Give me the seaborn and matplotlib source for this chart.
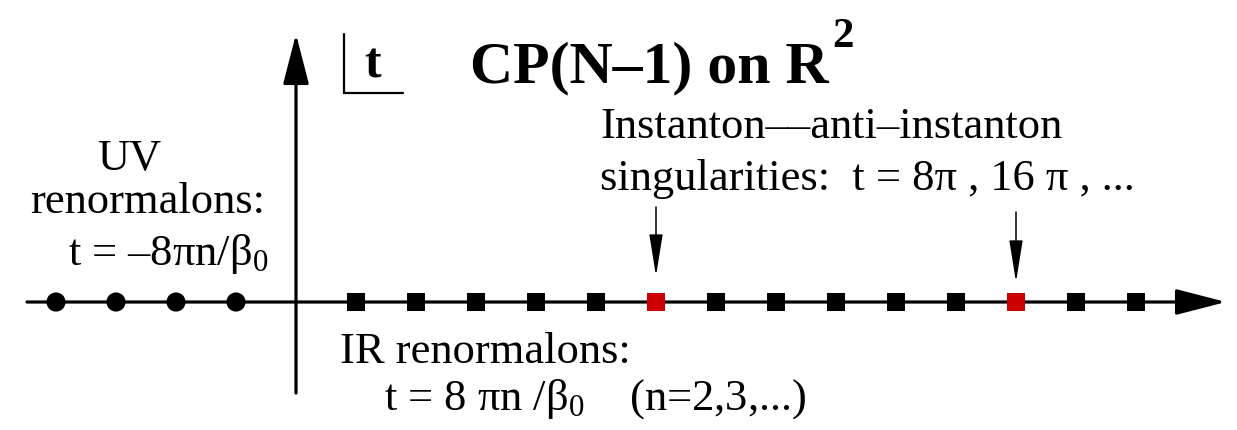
import matplotlib
matplotlib.use("Agg")
import matplotlib.pyplot as plt
import seaborn as sns
import pandas as pd

# ---- data: singularity positions on the Borel t axis (units of 8*pi/beta0) ----
uv_t = [-4, -3, -2, -1]                            # UV renormalons (circles)
ir_t = [1, 2, 3, 4, 5, 7, 8, 9, 10, 11, 13, 14]    # IR renormalons (black squares)
inst_t = [6, 12]                                   # instanton--anti-instanton (red squares)

sns.set_theme(style="white")
plt.rcParams["font.family"] = ["Liberation Serif", "DejaVu Serif"]
plt.rcParams["text.color"] = "black"
plt.rcParams["mathtext.fontset"] = "custom"
plt.rcParams["mathtext.rm"] = "Liberation Serif"
plt.rcParams["mathtext.it"] = "Liberation Serif:italic"
plt.rcParams["mathtext.bf"] = "Liberation Serif:bold"

W, H = 1237, 431
ORIGIN_PX, UNIT_PX = 296, 60.0
AXIS_Y = 303


def px(x):
    """pixel x -> t units"""
    return (x - ORIGIN_PX) / UNIT_PX


fig = plt.figure(figsize=(W / 100, H / 100), dpi=100)
ax = fig.add_axes([0, 0, 1, 1])

# markers
df_uv = pd.DataFrame({"t": uv_t, "y": [AXIS_Y] * len(uv_t)})
df_ir = pd.DataFrame({"t": ir_t, "y": [AXIS_Y] * len(ir_t)})
df_in = pd.DataFrame({"t": inst_t, "y": [AXIS_Y] * len(inst_t)})
sns.scatterplot(data=df_uv, x="t", y="y", marker="o", s=190, color="black",
                edgecolor="none", ax=ax, zorder=3, legend=False)
sns.scatterplot(data=df_ir, x="t", y="y", marker="s", s=160, color="black",
                edgecolor="none", ax=ax, zorder=3, legend=False)
sns.scatterplot(data=df_in, x="t", y="y", marker="s", s=160, color="#cc0000",
                edgecolor="none", ax=ax, zorder=3, legend=False)
ax.set_xlim(px(0), px(W))
ax.set_ylim(H, 0)
ax.axis("off")

# axes arrows
ax.annotate("", xy=(px(1226), AXIS_Y), xytext=(px(27), AXIS_Y),
            arrowprops=dict(arrowstyle="-|>,head_length=3.1,head_width=0.8",
                            mutation_scale=10, lw=2.3, color="black",
                            shrinkA=0, shrinkB=0), zorder=1)
ax.annotate("", xy=(0, 35), xytext=(0, 394),
            arrowprops=dict(arrowstyle="-|>,head_length=3.1,head_width=0.8",
                            mutation_scale=10, lw=2.3, color="black",
                            shrinkA=0, shrinkB=0), zorder=1)

# arrows pointing at the instanton singularities
for t, (y0, y1) in zip(inst_t, [(208, 277), (213, 283)]):
    ax.annotate("", xy=(t, y1), xytext=(t, y0),
                arrowprops=dict(arrowstyle="-|>,head_length=2.6,head_width=0.42",
                                mutation_scale=10, lw=1.1, color="black",
                                shrinkA=0, shrinkB=0))

# corner "t" label
ax.plot([px(344), px(344), px(403)], [35, 94, 94], color="black", lw=1.6,
        solid_joinstyle="miter")
ax.text(px(364), 77, "t", fontsize=36, fontweight="bold", va="baseline", ha="left")

# title
ax.text(px(470), 82, "CP(N\u20131) on R", fontsize=43, fontweight="bold",
        va="baseline", ha="left")
ax.text(px(832), 47, "2", fontsize=31, fontweight="bold", va="baseline", ha="left")

fs = 32
# UV label
ax.text(px(129), 170, "UV", fontsize=fs, va="baseline", ha="center")
ax.text(px(30), 213, "renormalons:", fontsize=fs, va="baseline", ha="left")
ax.text(px(68), 265, "t = \u20138\u03c0n/\u03b2$_{0}$", fontsize=fs, va="baseline", ha="left")

# instanton label
ax.text(px(600), 138, "Instanton\u2013\u2013anti\u2013instanton", fontsize=fs,
        va="baseline", ha="left")
ax.text(px(600), 190, "singularities:  t = 8\u03c0 , 16 \u03c0 , ...", fontsize=fs,
        va="baseline", ha="left")

# IR label
ax.text(px(340), 363, "IR renormalons:", fontsize=fs, va="baseline", ha="left")
ax.text(px(384), 410, "t = 8 \u03c0n /\u03b2$_{0}$    (n=2,3,...)", fontsize=fs,
        va="baseline", ha="left")

fig.savefig("out.png", dpi=100)
